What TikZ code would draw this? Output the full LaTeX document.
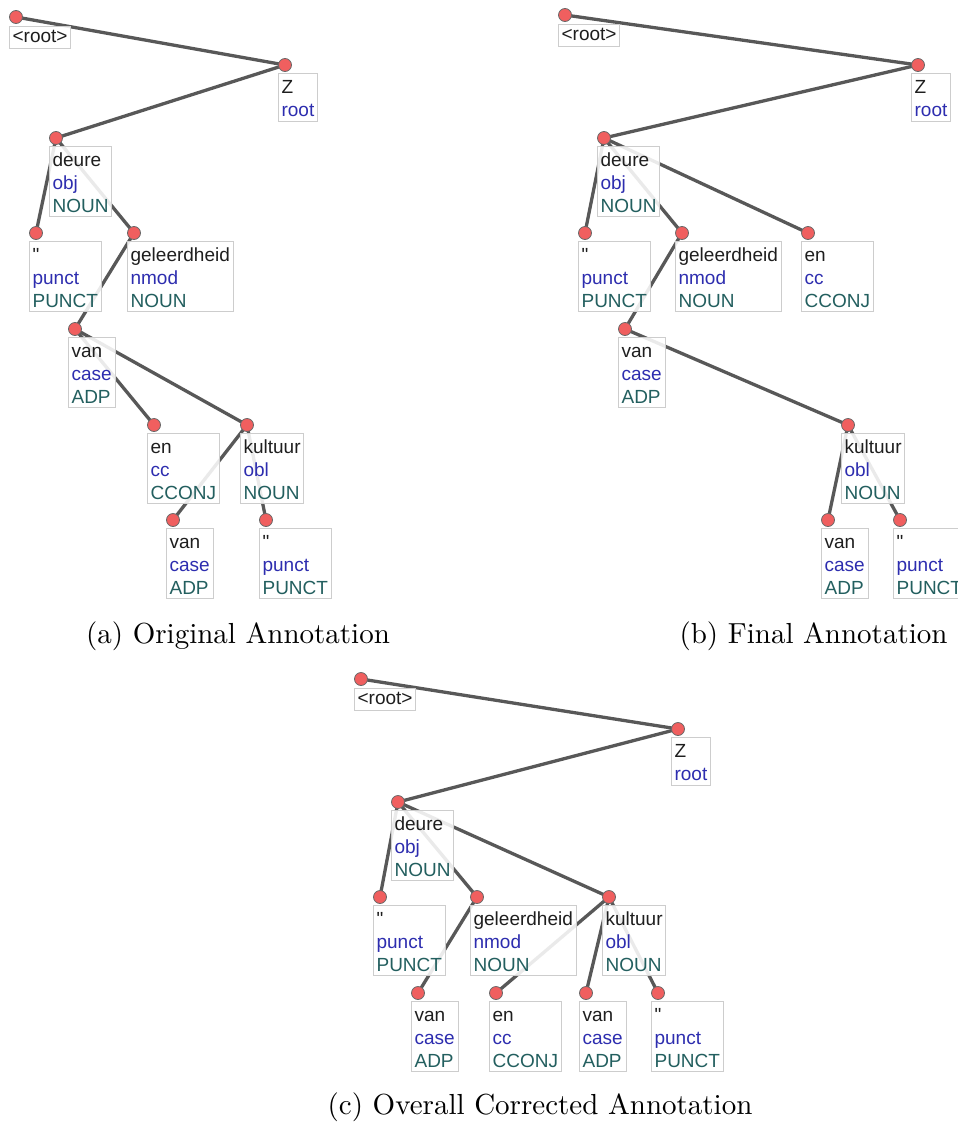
\documentclass[tikz,border=0pt]{standalone}
\usepackage{fontspec}
\newfontfamily\labfont{Liberation Sans}
\newfontfamily\capfont{lmroman10-regular.otf}
\definecolor{wordc}{RGB}{30,30,30}
\definecolor{relc}{RGB}{45,45,175}
\definecolor{posc}{RGB}{35,95,95}
\definecolor{edgec}{RGB}{88,88,88}
\definecolor{dotc}{RGB}{240,95,95}
\definecolor{boxc}{RGB}{205,205,205}
\pgfdeclarelayer{edges}
\pgfsetlayers{edges,main}
% three-line token label: word / relation / part of speech
\newcommand\three[3]{\rule{0pt}{21pt}{\color{wordc}#1}\\{\color{relc}#2}\\{\color{posc}#3}\rule[-4.5pt]{0pt}{4.5pt}}
\newcommand\two[2]{\rule{0pt}{21pt}{\color{wordc}#1}\\{\color{relc}#2}\rule[-4.5pt]{0pt}{4.5pt}}
\newcommand\one[1]{\rule{0pt}{16.5pt}{\color{wordc}#1}\rule[-5pt]{0pt}{5pt}}
% a token: dot (name) plus its label box (name-l)
\newcommand\tok[4]{%
  \node[dot] (#1) at (#2,#3) {};
  \node[lab] (#1-l) at ([shift={(-7,7.5)}]#1.center) {#4};}
\newcommand\rootok[3]{%
  \node[dot] (#1) at (#2,#3) {};
  \node[lab] (#1-l) at ([shift={(-7,9)}]#1.center) {\one{<root>}};}
\tikzset{
  dot/.style={circle, minimum size=13pt, inner sep=0pt, fill=dotc, draw=edgec!90, line width=0.8pt},
  lab/.style={anchor=north west, align=left, inner xsep=3.2pt, inner ysep=0pt,
    draw=boxc, line width=0.8pt, fill=white, fill opacity=0.88, text opacity=1,
    font=\labfont\fontsize{19}{22.7}\selectfont},
  edge/.style={draw=edgec, line width=3.3pt},
  caption/.style={anchor=base, font=\capfont\fontsize{29}{34}\selectfont}
}
\newcommand\link[2]{\begin{pgfonlayer}{edges}\path[edge] (#1.center) -- (#2.center);\end{pgfonlayer}}
\begin{document}
\begin{tikzpicture}[x=1pt,y=-1pt]
\useasboundingbox (0,0) rectangle (958,1122);
% ---------- (a) ----------
\rootok{aroot}{16}{17}
\tok{aZ}{285}{65}{\two{Z}{root}}
\tok{adeure}{56}{138}{\three{deure}{obj}{NOUN}}
\tok{aqa}{36}{233}{\three{"}{punct}{PUNCT}}
\tok{agel}{134}{233}{\three{geleerdheid}{nmod}{NOUN}}
\tok{avana}{75}{329}{\three{van}{case}{ADP}}
\tok{aen}{154}{425}{\three{en}{cc}{CCONJ}}
\tok{akul}{247}{425}{\three{kultuur}{obl}{NOUN}}
\tok{avanb}{173}{520}{\three{van}{case}{ADP}}
\tok{aqb}{266}{520}{\three{"}{punct}{PUNCT}}
\link{aroot}{aZ}
\link{aZ}{adeure}
\link{adeure}{aqa}
\link{adeure}{agel}
\link{agel}{avana}
\link{avana}{aen}
\link{avana}{akul}
\link{akul}{avanb}
\link{akul}{aqb}
\node[caption] (capa) at (238,643) {(a) Original Annotation};
% ---------- (b) ----------
\rootok{broot}{565}{15}
\tok{bZ}{918}{65}{\two{Z}{root}}
\tok{bdeure}{604}{138}{\three{deure}{obj}{NOUN}}
\tok{bqa}{585}{233}{\three{"}{punct}{PUNCT}}
\tok{bgel}{682}{233}{\three{geleerdheid}{nmod}{NOUN}}
\tok{ben}{808}{233}{\three{en}{cc}{CCONJ}}
\tok{bvana}{625}{329}{\three{van}{case}{ADP}}
\tok{bkul}{848}{425}{\three{kultuur}{obl}{NOUN}}
\tok{bvanb}{828}{520}{\three{van}{case}{ADP}}
\tok{bqb}{900}{520}{\three{"}{punct}{PUNCT}}
\link{broot}{bZ}
\link{bZ}{bdeure}
\link{bdeure}{bqa}
\link{bdeure}{bgel}
\link{bdeure}{ben}
\link{bgel}{bvana}
\link{bvana}{bkul}
\link{bkul}{bvanb}
\link{bkul}{bqb}
\node[caption] (capb) at (813.5,643) {(b) Final Annotation};
% ---------- (c) ----------
\rootok{croot}{361}{679}
\tok{cZ}{678}{729}{\two{Z}{root}}
\tok{cdeure}{398}{802}{\three{deure}{obj}{NOUN}}
\tok{cqa}{380}{897}{\three{"}{punct}{PUNCT}}
\tok{cgel}{477}{897}{\three{geleerdheid}{nmod}{NOUN}}
\tok{ckul}{609}{897}{\three{kultuur}{obl}{NOUN}}
\tok{cvana}{418}{993}{\three{van}{case}{ADP}}
\tok{cen}{496}{993}{\three{en}{cc}{CCONJ}}
\tok{cvanb}{586}{993}{\three{van}{case}{ADP}}
\tok{cqb}{658}{993}{\three{"}{punct}{PUNCT}}
\link{croot}{cZ}
\link{cZ}{cdeure}
\link{cdeure}{cqa}
\link{cdeure}{cgel}
\link{cdeure}{ckul}
\link{cgel}{cvana}
\link{ckul}{cen}
\link{ckul}{cvanb}
\link{ckul}{cqb}
\node[caption] (capc) at (540,1114) {(c) Overall Corrected Annotation};
\end{tikzpicture}
\end{document}
